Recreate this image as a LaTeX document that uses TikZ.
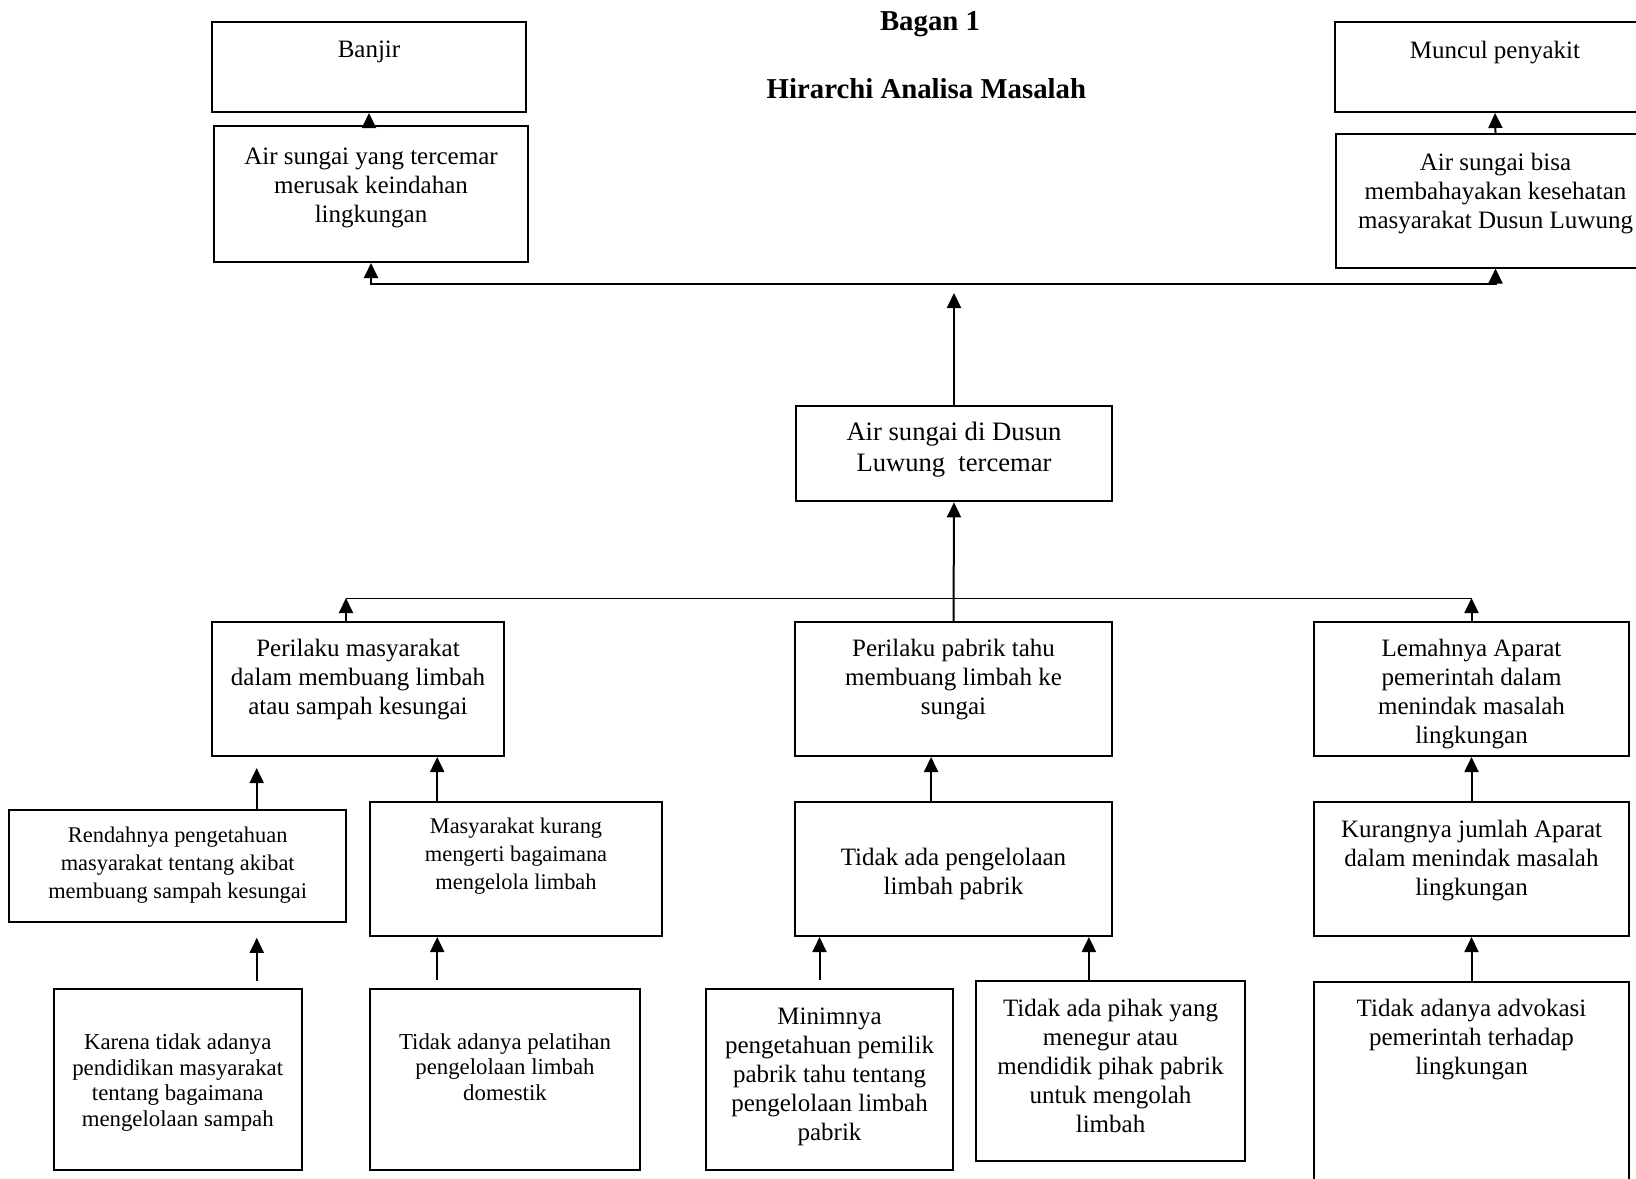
\documentclass[tikz,border=0pt]{standalone}
\usepackage{fontspec}
\setmainfont{Liberation Serif}
\usetikzlibrary{arrows.meta,positioning,fit}

\begin{document}
\begin{tikzpicture}[
  x=0.5pt,y=-0.5pt,
  box/.style={draw,line width=1pt,inner sep=0pt},
  txt/.style={align=center,inner sep=0pt,font=\fontsize{12.5}{14.5}\selectfont},
  small/.style={txt,font=\fontsize{11.2}{13.8}\selectfont},
  tight/.style={txt,font=\fontsize{11.4}{12.8}\selectfont},
  title/.style={anchor=base,font=\fontsize{14.4}{16}\bfseries\selectfont},
  arrow/.style={-{Triangle[length=7.5pt,width=7pt]},line width=1pt}
]
\useasboundingbox (0,0) rectangle (1636,1178);
\clip (0,0) rectangle (1636,1178);

\node[title] (bagan) at (930,30.7) {Bagan 1};
\node[title] (judul) at (926.4,98.3) {Hirarchi Analisa Masalah};

% akibat
\node[box,fit={(212,22) (526,112)},label={[txt,below=10pt]north:Banjir}] (banjir) {};
\node[box,fit={(214,126) (528,262)},
  label={[txt,below=11.2pt]north:Air sungai yang tercemar\\merusak keindahan\\lingkungan}] (airA) {};
\node[box,fit={(1335,22) (1655,112)},label={[txt,below=9.8pt]north:Muncul penyakit}] (muncul) {};
\node[box,fit={(1336,134) (1655,267.5)},
  label={[txt,below=10pt]north:Air sungai bisa\\membahayakan kesehatan\\masyarakat Dusun Luwung}] (airB) {};

% masalah inti
\node[box,fit={(796,405.5) (1112,501.3)},
  label={[txt,font=\fontsize{13.3}{15.3}\selectfont,below=8.6pt]north:Air sungai di Dusun\\Luwung\ \ tercemar}] (dusun) {};

% penyebab
\node[box,fit={(212,622) (504,756)},
  label={[txt,below=9pt]north:Perilaku masyarakat\\dalam membuang limbah\\atau sampah kesungai}] (P1) {};
\node[box,fit={(795,622) (1112,756)},
  label={[txt,below=9pt]north:Perilaku pabrik tahu\\membuang limbah ke\\sungai}] (P2) {};
\node[box,fit={(1314,622) (1629,756)},
  label={[txt,below=9pt]north:Lemahnya Aparat\\pemerintah dalam\\menindak masalah\\lingkungan}] (L) {};

\node[box,fit={(9.4,810) (346,922)},
  label={[small,below=9pt]north:Rendahnya pengetahuan\\masyarakat tentang akibat\\membuang sampah kesungai}] (R1) {};
\node[box,fit={(370,801.7) (662,936)},
  label={[small,below=8.6pt]north:Masyarakat kurang\\mengerti bagaimana\\mengelola limbah}] (M1) {};
\node[box,fit={(795,801.7) (1112,936)},
  label={[txt,below=23.3pt]north:Tidak ada pengelolaan\\limbah pabrik}] (T) {};
\node[box,fit={(1314,801.7) (1629,936)},
  label={[txt,below=9.3pt]north:Kurangnya jumlah Aparat\\dalam menindak masalah\\lingkungan}] (K) {};

\node[box,fit={(53.5,989.3) (302,1170)},
  label={[tight,below=22.5pt]north:Karena tidak adanya\\pendidikan masyarakat\\tentang bagaimana\\mengelolaan sampah}] (karena) {};
\node[box,fit={(370.4,989) (639.6,1170)},
  label={[tight,below=22.5pt]north:Tidak adanya pelatihan\\pengelolaan limbah\\domestik}] (Tp) {};
\node[box,fit={(706,989) (953,1170)},
  label={[txt,below=9.9pt]north:Minimnya\\pengetahuan pemilik\\pabrik tahu tentang\\pengelolaan limbah\\pabrik}] (Mn) {};
\node[box,fit={(976,981) (1245,1160.5)},
  label={[txt,below=9.3pt]north:Tidak ada pihak yang\\menegur atau\\mendidik pihak pabrik\\untuk mengolah\\limbah}] (Tg) {};
\node[box,fit={(1314,981.5) (1629,1200)},
  label={[txt,below=9pt]north:Tidak adanya advokasi\\pemerintah terhadap\\lingkungan}] (Ad) {};

\coordinate (topbar) at (954,284);
\coordinate (dusun-up) at (954,293);
\coordinate (midbar) at (954,598);

\draw[arrow] (banjir.south |- airA.north) -- (banjir.south);
\draw[arrow] (airB.north) -- (muncul.south);
\draw[arrow] (topbar) -| (airA.south);
\draw[arrow] (topbar) -| (airB.south);
\draw[arrow] (dusun.north) -- (dusun-up);

\draw[arrow] (P2.north) -- (dusun.south);
\draw ([xshift=-6pt]P1.north |- midbar) -- (L.north |- midbar);
\draw[arrow] ([xshift=-6pt]P1.north) -- ([xshift=-6pt]P1.north |- midbar);
\draw[arrow] (L.north) -- (L.north |- midbar);

\draw[arrow,shorten >=5.5pt] ([xshift=39.5pt]R1.north) -- ([xshift=39.5pt]R1.north |- P1.south);
\draw[arrow] ([xshift=-39.4pt]M1.north) -- ([xshift=-39.4pt]M1.north |- P1.south);
\draw[arrow] ([xshift=-11.2pt]T.north) -- ([xshift=-11.2pt]T.north |- P2.south);
\draw[arrow] (K.north) -- (L.south);

\draw[arrow,shorten <=3.8pt,shorten >=7.4pt] ([xshift=39.5pt]karena.north) -- ([xshift=39.5pt]karena.north |- R1.south);
\draw[arrow,shorten <=3.8pt] ([xshift=-33.9pt]Tp.north) -- ([xshift=-33.9pt]Tp.north |- M1.south);
\draw[arrow,shorten <=4pt] ([xshift=-5pt]Mn.north) -- ([xshift=-5pt]Mn.north |- T.south);
\draw[arrow] ([xshift=-10.8pt]Tg.north) -- ([xshift=-10.8pt]Tg.north |- T.south);
\draw[arrow] (Ad.north) -- (K.south);
\end{tikzpicture}
\end{document}
